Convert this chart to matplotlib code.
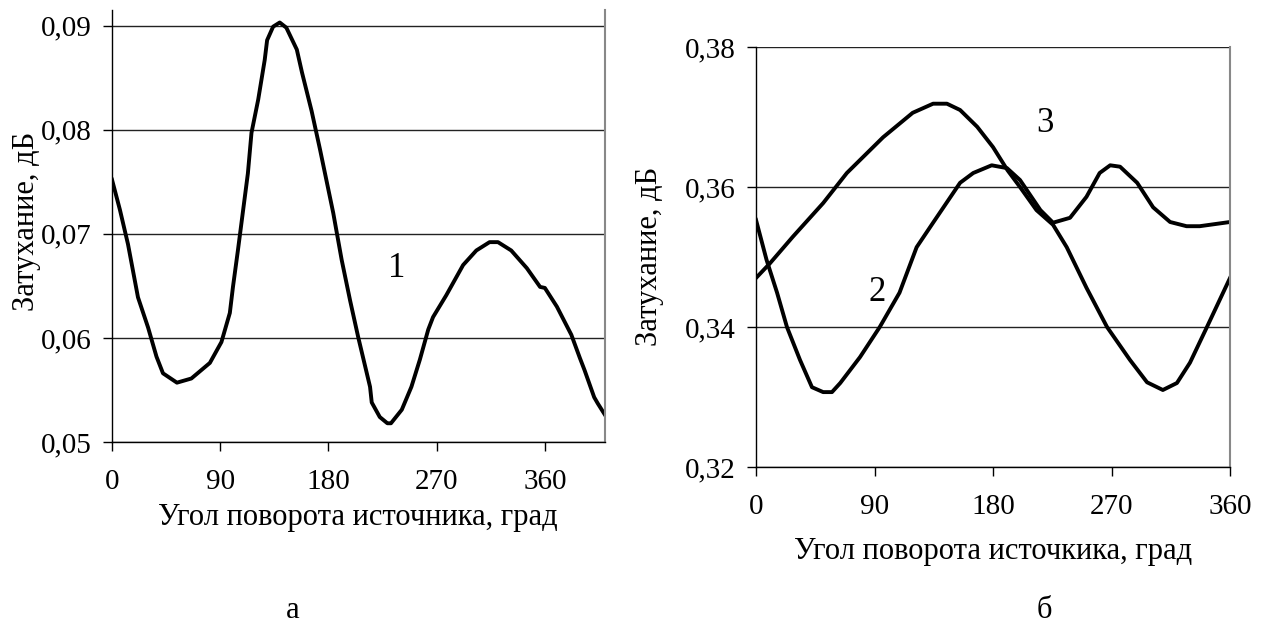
import matplotlib.pyplot as plt
import numpy as np
from matplotlib.ticker import FuncFormatter

plt.rcParams['font.family'] = ['Liberation Serif', 'DejaVu Serif']
plt.rcParams['font.size'] = 21

# curve 1 (panel a): angle, deg / attenuation, dB
angle_1 = [0, 6.6, 13.3, 21.6, 30, 37, 42.4, 54, 66, 81.4, 91, 98, 100.6, 104.7,
           113, 116, 121.6, 127, 129, 134, 139.5, 145, 153.7, 158, 166, 173,
           184, 191, 198, 204.7, 214.6, 216, 222.7, 229, 232, 241, 249, 256,
           263, 267, 278, 292, 303, 314, 321, 332, 345, 356, 360, 370, 382,
           389, 393, 401, 404, 410]
atten_1 = [0.0752, 0.0723, 0.0690, 0.0639, 0.0610, 0.0582, 0.0566, 0.0557, 0.0561,
           0.0576, 0.0596, 0.0624, 0.0649, 0.0684, 0.0758, 0.0797, 0.0829, 0.0867,
           0.0886, 0.0899, 0.0903, 0.0898, 0.0877, 0.0855, 0.0818, 0.0781, 0.0720,
           0.0675, 0.0636, 0.0601, 0.0553, 0.0538, 0.0524, 0.0518, 0.0518, 0.0531,
           0.0553, 0.0579, 0.0608, 0.0620, 0.0641, 0.0670, 0.0684, 0.0692, 0.0692,
           0.0684, 0.0667, 0.0649, 0.0648, 0.0630, 0.0603, 0.0581, 0.0569, 0.0543,
           0.0537, 0.0526]

# curve 2 (panel б)
angle_2 = [0, 8, 16, 23.5, 33.4, 42.5, 51, 57.7, 64, 79, 94, 109, 122, 134.5,
           155, 165, 179, 190.6, 200.5, 216, 225.6, 238.5, 251, 261, 269,
           276.5, 289.5, 301.6, 314.5, 327, 337, 360]
atten_2 = [0.3553, 0.3496, 0.3449, 0.3400, 0.3353, 0.3314, 0.3307, 0.3307, 0.3320,
           0.3357, 0.3400, 0.3449, 0.3514, 0.3549, 0.3606, 0.3620, 0.3631, 0.3627,
           0.3610, 0.3567, 0.3549, 0.3556, 0.3586, 0.3620, 0.3631, 0.3629, 0.3606,
           0.3571, 0.3550, 0.3544, 0.3544, 0.3550]

# curve 3 (panel б)
angle_3 = [0, 10.6, 28, 51, 69, 96.5, 119, 134.5, 145, 155, 168, 180, 191,
           200.5, 213, 225.6, 236, 251, 266.6, 284, 297, 309, 319.7, 329.6,
           342.5, 360]
atten_3 = [0.3470, 0.3491, 0.3529, 0.3577, 0.3620, 0.3671, 0.3706, 0.3719, 0.3719,
           0.3710, 0.3686, 0.3657, 0.3624, 0.3600, 0.3567, 0.3546, 0.3514, 0.3456,
           0.3400, 0.3353, 0.3321, 0.3310, 0.3320, 0.3349, 0.3400, 0.3470]

x_ticks = [0, 90, 180, 270, 360]
y_ticks_a = [0.05, 0.06, 0.07, 0.08, 0.09]
y_ticks_b = [0.32, 0.34, 0.36, 0.38]

W, H = 1263, 632
fig = plt.figure(figsize=(W / 100, H / 100), dpi=100)
ax1 = fig.add_axes([112 / W, 1 - 442 / H, 493 / W, 432 / H])
ax2 = fig.add_axes([756 / W, 1 - 467 / H, 474 / W, 420 / H])

comma = FuncFormatter(lambda v, pos: f'{v:.2f}'.replace('.', ','))


def style(ax, yticks):
    ax.set_xticks(x_ticks)
    ax.set_yticks(yticks)
    ax.yaxis.set_major_formatter(comma)
    ax.grid(axis='y', color='#222222', lw=1)
    ax.set_axisbelow(True)
    ax.spines['top'].set_visible(False)
    ax.spines['right'].set_color('#888888')
    ax.spines['right'].set_linewidth(1.5)
    for s in ('left', 'bottom'):
        ax.spines[s].set_color('black')
        ax.spines[s].set_linewidth(1)
    ax.tick_params(axis='both', direction='out', length=6.5, width=1, color='black')
    ax.tick_params(axis='x', pad=13)
    ax.tick_params(axis='y', pad=8)


ax1.plot(angle_1, atten_1, color='black', lw=2.8)
ax1.set_xlim(0, 410)
ax1.set_ylim(0.05, 0.0915)
style(ax1, y_ticks_a)
ax1.text(237, 0.0667, '1', fontsize=25, ha='center', va='center')

ax2.plot(angle_2, atten_2, color='black', lw=2.8)
ax2.plot(angle_3, atten_3, color='black', lw=2.8)
ax2.set_xlim(0, 360)
ax2.set_ylim(0.32, 0.38)
style(ax2, y_ticks_b)
ax2.text(92, 0.345, '2', fontsize=25, ha='center', va='center')
ax2.text(219.5, 0.3691, '3', fontsize=25, ha='center', va='center')

fig.text(27 / W, 1 - 221 / H, 'Затухание, дБ', rotation=90, ha='center', va='center', fontsize=22)
fig.text(650 / W, 1 - 256 / H, 'Затухание, дБ', rotation=90, ha='center', va='center', fontsize=22)
fig.text(358 / W, 1 - 518 / H, 'Угол поворота источника, град', ha='center', va='center', fontsize=22)
fig.text(993 / W, 1 - 551 / H, 'Угол поворота источкика, град', ha='center', va='center', fontsize=22)
fig.text(293 / W, 1 - 610 / H, 'а', ha='center', va='center', fontsize=22)
fig.text(1044 / W, 1 - 610 / H, 'б', ha='center', va='center', fontsize=22)

fig.savefig('out.png', dpi=100)
